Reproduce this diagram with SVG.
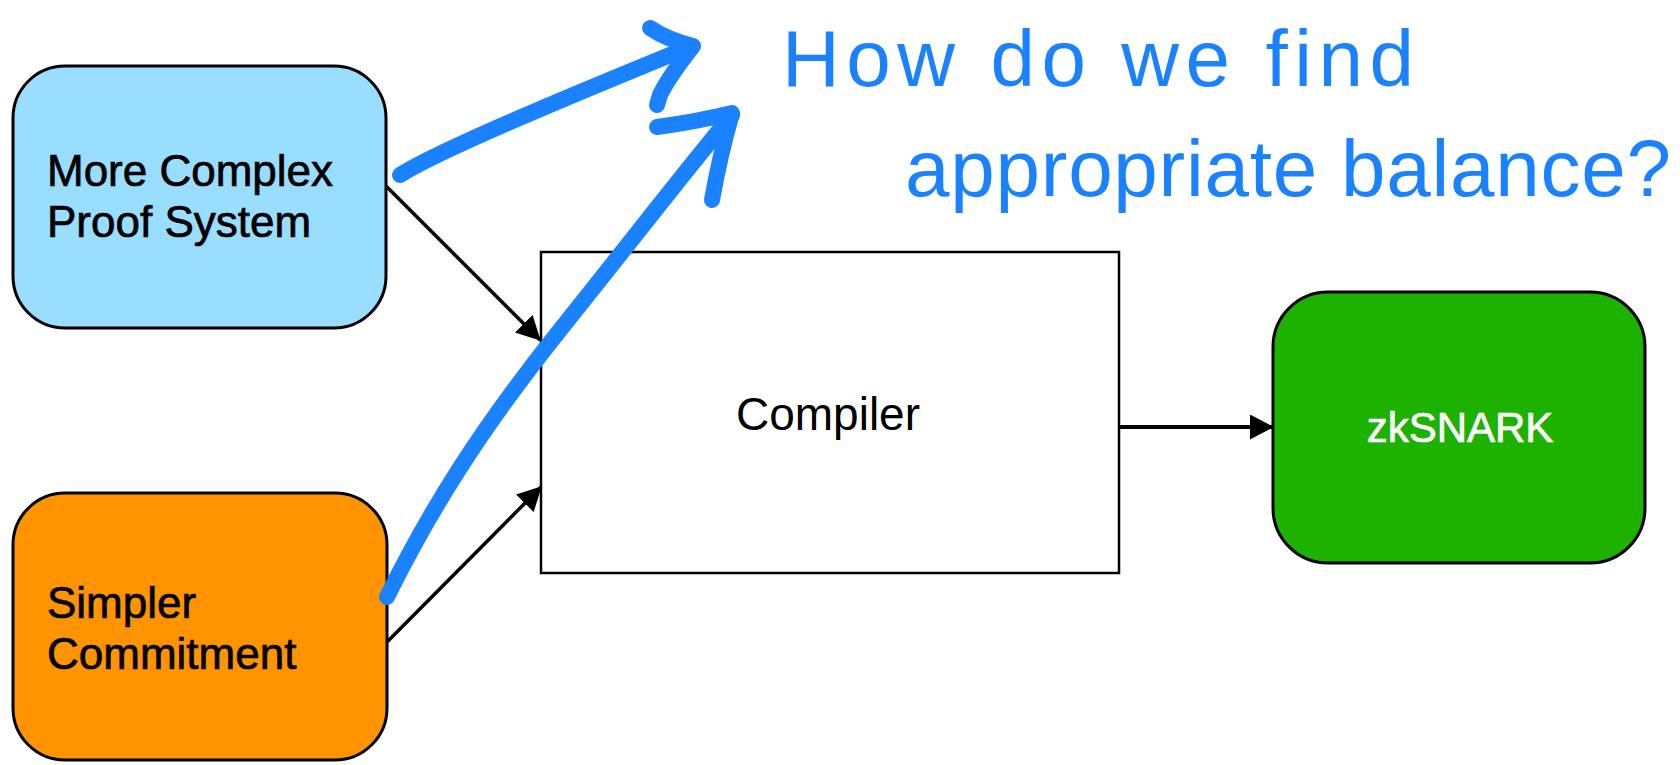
<svg xmlns="http://www.w3.org/2000/svg" width="1680" height="765" viewBox="0 0 1680 765">
  <style>
    .box { stroke: #000; stroke-width: 3; }
    .lbl { font-family: "Liberation Sans", Arial, Helvetica, sans-serif; font-size: 44px; fill: #000; stroke: #000; stroke-width: 0.7; }
    .conn { stroke: #000; stroke-width: 3.5; fill: none; }
    .ink { stroke: #1A82FF; stroke-width: 16; fill: none; stroke-linecap: round; stroke-linejoin: round; }
    .hand { font-family: "Liberation Sans", Arial, sans-serif; fill: #1A82FF; }
  </style>
  <defs>
    <marker id="arr" viewBox="0 0 24 25" refX="23" refY="12.5" markerWidth="24" markerHeight="25" markerUnits="userSpaceOnUse" orient="auto">
      <path d="M0,0 L24,12.5 L0,25 z" fill="#000"/>
    </marker>
  </defs>
  <rect width="1680" height="765" fill="#fff"/>

  <g id="node-proof">
    <rect class="box" x="13" y="66" width="373" height="262" rx="52" ry="52" fill="#99DDFF"/>
    <text class="lbl" x="47" y="186">More Complex</text>
    <text class="lbl" x="47" y="237">Proof System</text>
  </g>

  <g id="node-commit">
    <rect class="box" x="13" y="493" width="374" height="267" rx="52" ry="52" fill="#FF9300"/>
    <text class="lbl" x="47" y="618">Simpler</text>
    <text class="lbl" x="47" y="669">Commitment</text>
  </g>

  <g id="node-compiler">
    <rect class="box" x="541" y="252" width="578" height="321" fill="#fff" style="stroke-width:2.5"/>
    <text class="lbl" x="828" y="430" text-anchor="middle" style="font-size:46px;stroke:none">Compiler</text>
  </g>

  <g id="node-zksnark">
    <rect class="box" x="1273" y="292" width="372" height="271" rx="55" ry="55" fill="#1DB100"/>
    <text class="lbl" x="1460" y="442" text-anchor="middle" style="font-size:42px;fill:#fff;stroke:#fff">zkSNARK</text>
  </g>

  <g id="connectors">
    <line class="conn" x1="386" y1="186" x2="540" y2="340" marker-end="url(#arr)"/>
    <line class="conn" x1="387" y1="642" x2="541" y2="487" marker-end="url(#arr)"/>
    <line class="conn" x1="1119" y1="427" x2="1273" y2="427" marker-end="url(#arr)" style="stroke-width:4"/>
  </g>

  <g id="annotation">
    <path class="ink" d="M400,175 C440,150 560,100 692,46"/>
    <path class="ink" d="M650,28 Q668,40 693,46 Q668,78 660,95 L657,105"/>
    <path class="ink" d="M387,597 C430,510 480,430 560,330 S690,165 732,115"/>
    <path class="ink" d="M657,127 Q695,122 732,113 Q720,155 712,200"/>
    <text class="hand" x="782" y="86" font-size="80" textLength="632" lengthAdjust="spacing">How do we find</text>
    <text class="hand" x="905" y="196" font-size="80" textLength="766" lengthAdjust="spacing">appropriate balance?</text>
  </g>
</svg>
